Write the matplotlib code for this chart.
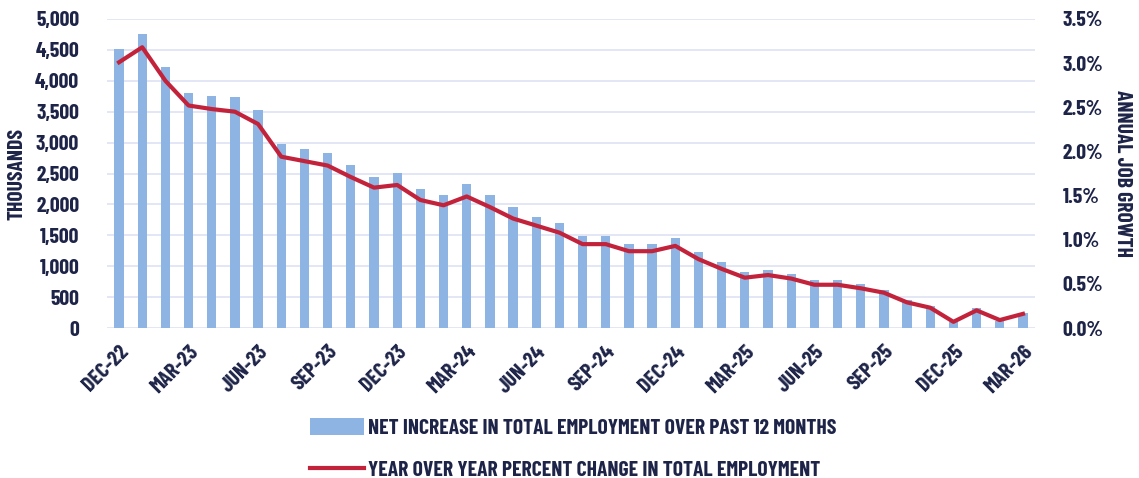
import matplotlib.pyplot as plt
import matplotlib as mpl
from matplotlib.ticker import FuncFormatter, MultipleLocator

# 월별 고용 데이터 (2022.12 ~ 2026.03)
months = ['DEC-22', 'JAN-23', 'FEB-23', 'MAR-23', 'APR-23', 'MAY-23', 'JUN-23', 'JUL-23',
          'AUG-23', 'SEP-23', 'OCT-23', 'NOV-23', 'DEC-23', 'JAN-24', 'FEB-24', 'MAR-24',
          'APR-24', 'MAY-24', 'JUN-24', 'JUL-24', 'AUG-24', 'SEP-24', 'OCT-24', 'NOV-24',
          'DEC-24', 'JAN-25', 'FEB-25', 'MAR-25', 'APR-25', 'MAY-25', 'JUN-25', 'JUL-25',
          'AUG-25', 'SEP-25', 'OCT-25', 'NOV-25', 'DEC-25', 'JAN-26', 'FEB-26', 'MAR-26']
net_increase = [4520, 4760, 4230, 3810, 3750, 3730, 3520, 2970, 2890, 2830, 2630, 2450,
                2510, 2250, 2160, 2330, 2150, 1950, 1800, 1700, 1490, 1490, 1360, 1360,
                1450, 1230, 1070, 910, 940, 880, 780, 780, 710, 620, 450, 360,
                100, 320, 120, 250]
yoy_pct = [3.01, 3.18, 2.80, 2.52, 2.48, 2.45, 2.31, 1.94, 1.89, 1.84, 1.71, 1.59,
           1.62, 1.45, 1.39, 1.49, 1.37, 1.24, 1.16, 1.08, 0.95, 0.95, 0.87, 0.87,
           0.93, 0.78, 0.67, 0.57, 0.60, 0.56, 0.49, 0.49, 0.45, 0.40, 0.29, 0.23,
           0.07, 0.20, 0.09, 0.16]

bar_label = 'NET INCREASE IN TOTAL EMPLOYMENT OVER PAST 12 MONTHS'
line_label = 'YEAR OVER YEAR PERCENT CHANGE IN TOTAL EMPLOYMENT'

# 시각화 설정 (좁은 글꼴)
mpl.rcParams['font.family'] = ['Barlow Condensed', 'DejaVu Sans']
mpl.rcParams['font.weight'] = 'bold'
mpl.rcParams['axes.labelweight'] = 'bold'
navy = '#1d2448'
bar_color = '#8db4e2'
line_color = '#c2233b'
grid_color = '#dde2f3'
fs = 15.5

fig = plt.figure(figsize=(11.39, 4.78), dpi=100)
ax = fig.add_axes([107 / 1139, 1 - 328 / 478, (1035 - 107) / 1139, (328 - 19) / 478])
ax2 = ax.twinx()

x = range(len(months))
bars = ax.bar(x, net_increase, width=0.4, color=bar_color, zorder=2)
line, = ax2.plot(x, yoy_pct, color=line_color, lw=3, zorder=3)

ax.set_xlim(-0.52, len(months) - 0.48)
ax.set_ylim(0, 5000)
ax2.set_ylim(0, 3.5)
ax.yaxis.set_major_locator(MultipleLocator(500))
ax2.yaxis.set_major_locator(MultipleLocator(0.5))
ax.yaxis.set_major_formatter(FuncFormatter(lambda v, p: f'{v:,.0f}'))
ax2.yaxis.set_major_formatter(FuncFormatter(lambda v, p: f'{v:.1f}%'))
ax.grid(axis='y', color=grid_color, lw=1.2, zorder=0)
ax.set_axisbelow(True)

ax.set_xticks(list(x)[::3])
ax.set_xticklabels(months[::3], rotation=45, ha='right', rotation_mode='anchor')

for a in (ax, ax2):
    for s in a.spines.values():
        s.set_visible(False)
    a.tick_params(length=0, colors=navy, labelsize=fs)
ax.tick_params(axis='x', pad=10)
ax.tick_params(axis='y', pad=20)
ax2.tick_params(axis='y', pad=20)

ax.set_ylabel('THOUSANDS', color=navy, fontsize=fs, labelpad=6)
ax2.set_ylabel('ANNUAL JOB GROWTH', color=navy, fontsize=fs, rotation=-90, labelpad=20)

# 범례
fig.legend([bars, line], [bar_label, line_label], loc='upper left',
           bbox_to_anchor=(310 / 1139, 1 - 418 / 478), frameon=False, ncol=1,
           fontsize=fs, labelcolor=navy, handlelength=2.5, handleheight=0.85,
           handletextpad=0.2, labelspacing=1.0, borderpad=0, borderaxespad=0)

plt.savefig('out.png', dpi=100)
